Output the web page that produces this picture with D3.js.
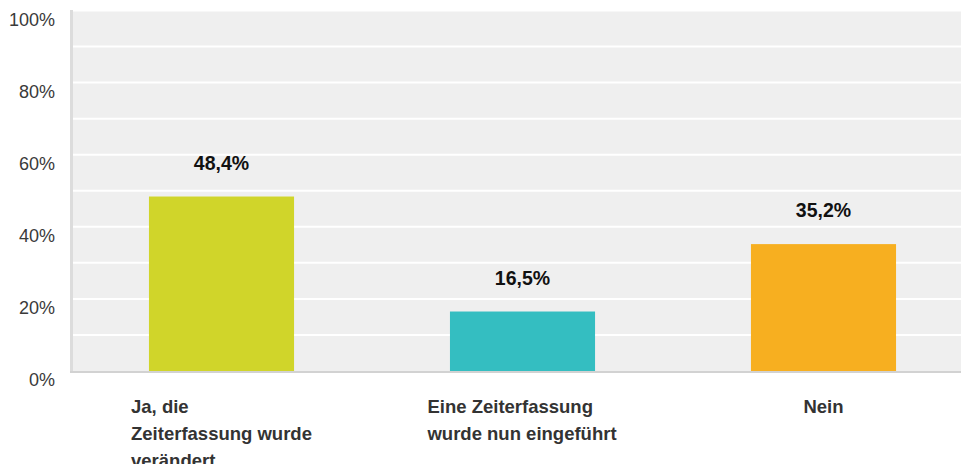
<!DOCTYPE html>
<html><head><meta charset="utf-8">
<script src="https://cdn.jsdelivr.net/npm/d3@7"></script>
<style>body{margin:0;background:#fff;}svg{display:block;font-family:"Liberation Sans",Arial,sans-serif;}</style>
</head><body>
<svg id="c" width="961" height="464"></svg>
<script>
const categories = [["Ja, die","Zeiterfassung wurde","verändert"],["Eine Zeiterfassung","wurde nun eingeführt"],["Nein"]];
const values = [48.4, 16.5, 35.2];
const valueLabels = ["48,4%","16,5%","35,2%"];
const colors = ["#d0d52a","#34bec1","#f7af20"];
const tickValues = [0,20,40,60,80,100];
const gridValues = [10,20,30,40,50,60,70,80,90,100];

const svg = d3.select("#c");
const pLeft = 73, pRight = 961, pTop = 10.5, pBottom = 371;
const y = d3.scaleLinear().domain([0,100]).range([pBottom, pTop]);
const x = d3.scaleBand().domain(d3.range(values.length)).range([71, 974]).paddingInner(0.518).paddingOuter(0.259);

svg.append("rect").attr("x", pLeft).attr("y", pTop).attr("width", pRight-pLeft).attr("height", pBottom-pTop).attr("fill", "#efefef");
svg.selectAll(".grid").data(gridValues).join("line")
  .attr("x1", pLeft).attr("x2", pRight).attr("y1", d=>y(d)).attr("y2", d=>y(d))
  .attr("stroke", "#fff").attr("stroke-width", 2);
svg.append("rect").attr("x", 70).attr("y", pTop-0.5).attr("width", 3).attr("height", pBottom-pTop+2).attr("fill", "#dcdcdc");
svg.append("rect").attr("x", 70).attr("y", pBottom).attr("width", pRight-70).attr("height", 2).attr("fill", "#d2d2d2");

svg.selectAll(".tick").data(tickValues).join("text")
  .attr("x", 55).attr("y", d=>y(d)+15).attr("text-anchor","end")
  .attr("font-size", 18).attr("fill", "#3a3a3a").text(d=>d+"%");

svg.selectAll(".bar").data(values).join("rect")
  .attr("x", (d,i)=>x(i)).attr("width", x.bandwidth())
  .attr("y", d=>y(d)).attr("height", d=>pBottom-y(d)).attr("fill", (d,i)=>colors[i]);

svg.selectAll(".val").data(values).join("text")
  .attr("x", (d,i)=>x(i)+x.bandwidth()/2).attr("y", d=>y(d)-27)
  .attr("text-anchor","middle").attr("font-size", 19.5).attr("font-weight","bold").attr("fill","#111")
  .text((d,i)=>valueLabels[i]);

categories.forEach((lines,i)=>{
  const g = svg.append("g");
  const t = g.append("text").attr("font-size", 18.5).attr("font-weight","bold").attr("fill","#333");
  lines.forEach((l,j)=>t.append("tspan").attr("x",0).attr("y", 413 + j*27).text(l));
  const w = t.node().getBBox().width;
  g.attr("transform", `translate(${x(i)+x.bandwidth()/2 - w/2},0)`);
});
</script>
</body></html>
